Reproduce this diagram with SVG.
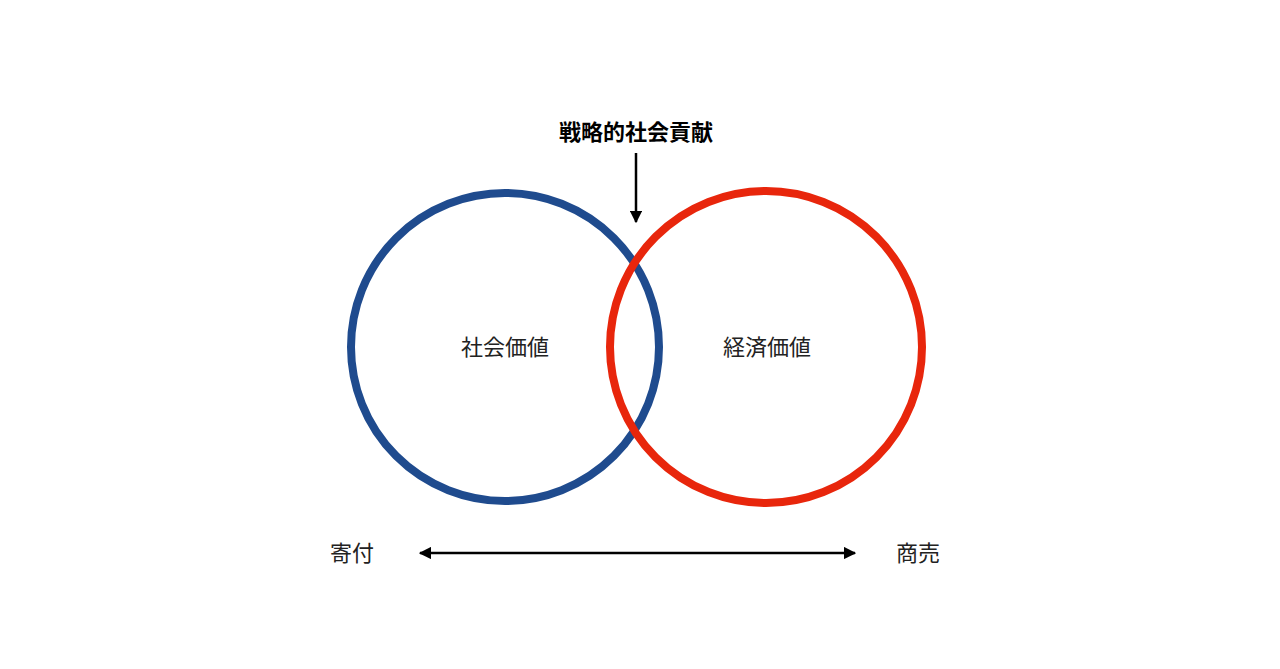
<svg xmlns="http://www.w3.org/2000/svg" width="1280" height="669" viewBox="0 0 1280 669">
<style>
text{font-family:"Noto Sans CJK JP","Noto Sans",sans-serif;font-size:22px;fill:#222}
.b{font-weight:bold;fill:#000}
</style>
<defs><marker id="ah" viewBox="0 0 10 10" refX="9" refY="5" markerWidth="5" markerHeight="5" orient="auto-start-reverse"><path d="M0,0L10,5L0,10z" fill="#000"/></marker></defs>
<rect width="1280" height="669" fill="#fff"/>
<g id="social"><circle cx="505" cy="347" r="154" fill="none" stroke="#1f4b8e" stroke-width="8"/><text x="505" y="355" text-anchor="middle">社会価値</text></g>
<g id="economic"><circle cx="766" cy="347" r="156" fill="none" stroke="#e8260c" stroke-width="8"/><text x="767" y="355" text-anchor="middle">経済価値</text></g>
<g id="strategic"><text class="b" x="636" y="140" text-anchor="middle">戦略的社会貢献</text></g>
<g id="donation"><text x="352" y="561" text-anchor="middle">寄付</text></g>
<g id="business"><text x="918" y="561" text-anchor="middle">商売</text></g>
<g id="connectors" stroke="#000" stroke-width="2.5">
<line x1="636" y1="153" x2="636" y2="222" marker-end="url(#ah)"/>
<line x1="420" y1="553" x2="855" y2="553" marker-start="url(#ah)" marker-end="url(#ah)"/>
</g>
</svg>
